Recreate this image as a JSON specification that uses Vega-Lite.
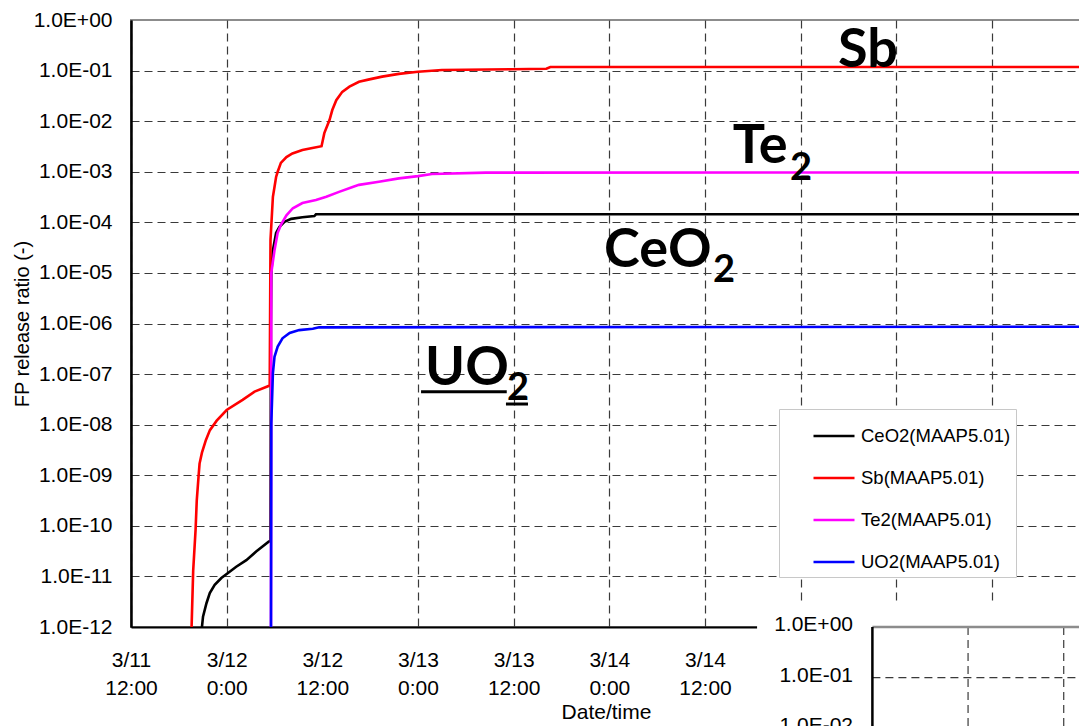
{
  "$schema": "https://vega.github.io/schema/vega-lite/v6.json",
  "width": 950,
  "height": 607,
  "autosize": {"type": "none"},
  "padding": {"left": 131, "top": 20, "right": 0, "bottom": 99},
  "background": "white",
  "config": {
    "view": {"stroke": "#8c8c8c", "strokeWidth": 2},
    "font": "Liberation Sans"
  },
  "layer": [
    {
      "data": {
        "values": [
          {"series": "CeO2(MAAP5.01)", "t": "2011-03-11T20:51", "v": 1e-13},
          {"series": "CeO2(MAAP5.01)", "t": "2011-03-11T20:54", "v": 1e-12},
          {"series": "CeO2(MAAP5.01)", "t": "2011-03-11T21:02", "v": 1.6e-12},
          {"series": "CeO2(MAAP5.01)", "t": "2011-03-11T21:28", "v": 2.95e-12},
          {"series": "CeO2(MAAP5.01)", "t": "2011-03-11T21:53", "v": 4.7e-12},
          {"series": "CeO2(MAAP5.01)", "t": "2011-03-11T22:30", "v": 6.8e-12},
          {"series": "CeO2(MAAP5.01)", "t": "2011-03-11T23:20", "v": 9.3e-12},
          {"series": "CeO2(MAAP5.01)", "t": "2011-03-12T00:10", "v": 1.17e-11},
          {"series": "CeO2(MAAP5.01)", "t": "2011-03-12T01:12", "v": 1.55e-11},
          {"series": "CeO2(MAAP5.01)", "t": "2011-03-12T02:28", "v": 2.1e-11},
          {"series": "CeO2(MAAP5.01)", "t": "2011-03-12T03:42", "v": 3.1e-11},
          {"series": "CeO2(MAAP5.01)", "t": "2011-03-12T05:18", "v": 4.9e-11},
          {"series": "CeO2(MAAP5.01)", "t": "2011-03-12T05:30", "v": 5e-11},
          {"series": "CeO2(MAAP5.01)", "t": "2011-03-12T05:33", "v": 1e-6},
          {"series": "CeO2(MAAP5.01)", "t": "2011-03-12T05:36", "v": 1e-5},
          {"series": "CeO2(MAAP5.01)", "t": "2011-03-12T05:48", "v": 2.8e-5},
          {"series": "CeO2(MAAP5.01)", "t": "2011-03-12T06:12", "v": 6.2e-5},
          {"series": "CeO2(MAAP5.01)", "t": "2011-03-12T06:36", "v": 8.1e-5},
          {"series": "CeO2(MAAP5.01)", "t": "2011-03-12T07:15", "v": 1.02e-4},
          {"series": "CeO2(MAAP5.01)", "t": "2011-03-12T08:06", "v": 1.17e-4},
          {"series": "CeO2(MAAP5.01)", "t": "2011-03-12T09:30", "v": 1.26e-4},
          {"series": "CeO2(MAAP5.01)", "t": "2011-03-12T11:00", "v": 1.33e-4},
          {"series": "CeO2(MAAP5.01)", "t": "2011-03-12T11:12", "v": 1.44e-4},
          {"series": "CeO2(MAAP5.01)", "t": "2011-03-16T12:00", "v": 1.44e-4},
          {"series": "Sb(MAAP5.01)", "t": "2011-03-11T19:33", "v": 1e-13},
          {"series": "Sb(MAAP5.01)", "t": "2011-03-11T19:36", "v": 1e-12},
          {"series": "Sb(MAAP5.01)", "t": "2011-03-11T19:48", "v": 1.3e-11},
          {"series": "Sb(MAAP5.01)", "t": "2011-03-11T20:06", "v": 8.3e-11},
          {"series": "Sb(MAAP5.01)", "t": "2011-03-11T20:15", "v": 3.2e-10},
          {"series": "Sb(MAAP5.01)", "t": "2011-03-11T20:28", "v": 9.2e-10},
          {"series": "Sb(MAAP5.01)", "t": "2011-03-11T20:36", "v": 1.7e-9},
          {"series": "Sb(MAAP5.01)", "t": "2011-03-11T20:54", "v": 2.8e-9},
          {"series": "Sb(MAAP5.01)", "t": "2011-03-11T21:24", "v": 5e-9},
          {"series": "Sb(MAAP5.01)", "t": "2011-03-11T21:54", "v": 7.8e-9},
          {"series": "Sb(MAAP5.01)", "t": "2011-03-11T22:45", "v": 1.2e-8},
          {"series": "Sb(MAAP5.01)", "t": "2011-03-12T00:00", "v": 1.95e-8},
          {"series": "Sb(MAAP5.01)", "t": "2011-03-12T02:00", "v": 3.1e-8},
          {"series": "Sb(MAAP5.01)", "t": "2011-03-12T03:30", "v": 4.5e-8},
          {"series": "Sb(MAAP5.01)", "t": "2011-03-12T05:15", "v": 5.8e-8},
          {"series": "Sb(MAAP5.01)", "t": "2011-03-12T05:24", "v": 6e-8},
          {"series": "Sb(MAAP5.01)", "t": "2011-03-12T05:30", "v": 4.5e-5},
          {"series": "Sb(MAAP5.01)", "t": "2011-03-12T05:48", "v": 3.2e-4},
          {"series": "Sb(MAAP5.01)", "t": "2011-03-12T06:00", "v": 5e-4},
          {"series": "Sb(MAAP5.01)", "t": "2011-03-12T06:12", "v": 7.9e-4},
          {"series": "Sb(MAAP5.01)", "t": "2011-03-12T06:24", "v": 1e-3},
          {"series": "Sb(MAAP5.01)", "t": "2011-03-12T06:48", "v": 1.5e-3},
          {"series": "Sb(MAAP5.01)", "t": "2011-03-12T07:30", "v": 1.95e-3},
          {"series": "Sb(MAAP5.01)", "t": "2011-03-12T08:15", "v": 2.3e-3},
          {"series": "Sb(MAAP5.01)", "t": "2011-03-12T09:30", "v": 2.7e-3},
          {"series": "Sb(MAAP5.01)", "t": "2011-03-12T10:45", "v": 2.95e-3},
          {"series": "Sb(MAAP5.01)", "t": "2011-03-12T11:54", "v": 3.2e-3},
          {"series": "Sb(MAAP5.01)", "t": "2011-03-12T12:15", "v": 5.8e-3},
          {"series": "Sb(MAAP5.01)", "t": "2011-03-12T12:54", "v": 1.05e-2},
          {"series": "Sb(MAAP5.01)", "t": "2011-03-12T13:15", "v": 1.66e-2},
          {"series": "Sb(MAAP5.01)", "t": "2011-03-12T13:45", "v": 2.6e-2},
          {"series": "Sb(MAAP5.01)", "t": "2011-03-12T14:30", "v": 3.8e-2},
          {"series": "Sb(MAAP5.01)", "t": "2011-03-12T15:24", "v": 4.8e-2},
          {"series": "Sb(MAAP5.01)", "t": "2011-03-12T16:36", "v": 6.0e-2},
          {"series": "Sb(MAAP5.01)", "t": "2011-03-12T17:54", "v": 6.7e-2},
          {"series": "Sb(MAAP5.01)", "t": "2011-03-12T19:30", "v": 7.6e-2},
          {"series": "Sb(MAAP5.01)", "t": "2011-03-12T21:36", "v": 8.6e-2},
          {"series": "Sb(MAAP5.01)", "t": "2011-03-13T00:00", "v": 9.5e-2},
          {"series": "Sb(MAAP5.01)", "t": "2011-03-13T03:00", "v": 1.03e-1},
          {"series": "Sb(MAAP5.01)", "t": "2011-03-13T11:45", "v": 1.06e-1},
          {"series": "Sb(MAAP5.01)", "t": "2011-03-13T16:06", "v": 1.09e-1},
          {"series": "Sb(MAAP5.01)", "t": "2011-03-13T16:36", "v": 1.18e-1},
          {"series": "Sb(MAAP5.01)", "t": "2011-03-16T12:00", "v": 1.18e-1},
          {"series": "Te2(MAAP5.01)", "t": "2011-03-12T05:33", "v": 1e-13},
          {"series": "Te2(MAAP5.01)", "t": "2011-03-12T05:36", "v": 1e-5},
          {"series": "Te2(MAAP5.01)", "t": "2011-03-12T06:00", "v": 2.8e-5},
          {"series": "Te2(MAAP5.01)", "t": "2011-03-12T06:24", "v": 6.2e-5},
          {"series": "Te2(MAAP5.01)", "t": "2011-03-12T06:48", "v": 8.9e-5},
          {"series": "Te2(MAAP5.01)", "t": "2011-03-12T07:30", "v": 1.38e-4},
          {"series": "Te2(MAAP5.01)", "t": "2011-03-12T08:18", "v": 1.9e-4},
          {"series": "Te2(MAAP5.01)", "t": "2011-03-12T09:30", "v": 2.4e-4},
          {"series": "Te2(MAAP5.01)", "t": "2011-03-12T11:12", "v": 2.75e-4},
          {"series": "Te2(MAAP5.01)", "t": "2011-03-12T12:30", "v": 3.2e-4},
          {"series": "Te2(MAAP5.01)", "t": "2011-03-12T14:06", "v": 4.0e-4},
          {"series": "Te2(MAAP5.01)", "t": "2011-03-12T15:48", "v": 5.0e-4},
          {"series": "Te2(MAAP5.01)", "t": "2011-03-12T16:36", "v": 5.5e-4},
          {"series": "Te2(MAAP5.01)", "t": "2011-03-12T19:06", "v": 6.35e-4},
          {"series": "Te2(MAAP5.01)", "t": "2011-03-12T21:36", "v": 7.4e-4},
          {"series": "Te2(MAAP5.01)", "t": "2011-03-13T00:00", "v": 8.2e-4},
          {"series": "Te2(MAAP5.01)", "t": "2011-03-13T01:45", "v": 9.0e-4},
          {"series": "Te2(MAAP5.01)", "t": "2011-03-13T08:30", "v": 9.6e-4},
          {"series": "Te2(MAAP5.01)", "t": "2011-03-16T12:00", "v": 9.7e-4},
          {"series": "UO2(MAAP5.01)", "t": "2011-03-12T05:33", "v": 1e-13},
          {"series": "UO2(MAAP5.01)", "t": "2011-03-12T05:36", "v": 1.07e-8},
          {"series": "UO2(MAAP5.01)", "t": "2011-03-12T05:48", "v": 1.05e-7},
          {"series": "UO2(MAAP5.01)", "t": "2011-03-12T06:00", "v": 2.2e-7},
          {"series": "UO2(MAAP5.01)", "t": "2011-03-12T06:24", "v": 3.5e-7},
          {"series": "UO2(MAAP5.01)", "t": "2011-03-12T07:00", "v": 5.1e-7},
          {"series": "UO2(MAAP5.01)", "t": "2011-03-12T07:54", "v": 6.5e-7},
          {"series": "UO2(MAAP5.01)", "t": "2011-03-12T09:06", "v": 7.4e-7},
          {"series": "UO2(MAAP5.01)", "t": "2011-03-12T10:48", "v": 7.9e-7},
          {"series": "UO2(MAAP5.01)", "t": "2011-03-12T11:36", "v": 8.4e-7},
          {"series": "UO2(MAAP5.01)", "t": "2011-03-16T12:00", "v": 8.65e-7}
        ]
      },
      "mark": {"type": "line", "clip": true, "strokeWidth": 2.6},
      "encoding": {
        "x": {
          "field": "t", "type": "temporal",
          "scale": {"domain": ["2011-03-11T12:00", "2011-03-16T11:10"]},
          "axis": {
            "title": "Date/time",
            "titleFontSize": 21, "titleFontWeight": "normal", "titleColor": "black", "titlePadding": 3,
            "tickCount": 10,
            "format": "%-m/%-d %-H:%M",
            "labelExpr": "date(datum.value) >= 15 ? '' : split(datum.label, ' ')",
            "labelFontSize": 21, "labelLineHeight": 28, "labelColor": "black",
            "labelFlush": false, "labelOverlap": false, "labelPadding": 22,
            "ticks": false, "tickSize": 0,
            "domainColor": "black", "domainWidth": 2,
            "grid": true, "gridColor": "#3a3a3a", "gridDash": [8, 5], "gridWidth": 1.2,
            "gridOpacity": {"condition": {"test": "hours(datum.value) == 12 && date(datum.value) == 12", "value": 0}, "value": 1}
          }
        },
        "y": {
          "field": "v", "type": "quantitative",
          "scale": {"type": "log", "domain": [1e-12, 1]},
          "axis": {
            "title": "FP release ratio (-)",
            "titleFontSize": 20, "titleFontWeight": "normal", "titleColor": "black", "titlePadding": 1,
            "values": [1e-12, 1e-11, 1e-10, 1e-9, 1e-8, 1e-7, 1e-6, 1e-5, 1e-4, 1e-3, 1e-2, 1e-1, 1],
            "labelExpr": "'1.0E' + (round(log(datum.value)/LN10) >= 0 ? '+' : '-') + (abs(round(log(datum.value)/LN10)) < 10 ? '0' : '') + abs(round(log(datum.value)/LN10))",
            "labelFontSize": 21, "labelColor": "black", "labelPadding": 19,
            "ticks": false, "tickSize": 0,
            "domainColor": "black", "domainWidth": 2.5,
            "grid": true, "gridColor": "#3a3a3a", "gridDash": [8, 5], "gridWidth": 1.2,
            "gridOpacity": {"condition": {"test": "datum.value > 0.5", "value": 0}, "value": 1}
          }
        },
        "color": {
          "field": "series", "type": "nominal",
          "scale": {"domain": ["CeO2(MAAP5.01)", "Sb(MAAP5.01)", "Te2(MAAP5.01)", "UO2(MAAP5.01)"], "range": ["#000000", "#ff0000", "#ff00ff", "#0000ff"]},
          "legend": {
            "orient": "none", "legendX": 648, "legendY": 389, "title": null,
            "fillColor": "white", "strokeColor": "#c8c8c8", "padding": 5,
            "symbolType": "stroke", "symbolSize": 1681, "symbolOffset": 28, "symbolStrokeWidth": 2.6,
            "labelExpr": "datum.label + '\u00a0\u00a0\u00a0\u00a0'",
            "labelFontSize": 18.5, "labelColor": "black", "labelOffset": 5,
            "rowPadding": 10
          }
        }
      }
    },
    {
      "data": {"values": [{"t": "2011-03-14T18:32", "t2": "2011-03-16T20:00", "v": 2.96e-12, "v2": 1e-15}]},
      "mark": {"type": "rect", "clip": false, "fill": "white"},
      "encoding": {
        "x": {"field": "t", "type": "temporal"},
        "x2": {"field": "t2"},
        "y": {"field": "v", "type": "quantitative"},
        "y2": {"field": "v2"}
      }
    },
    {
      "data": {"values": [
        {"t": "2011-03-15T09:00", "t2": "2011-03-16T20:00", "v": 1e-13},
        {"t": "2011-03-15T09:00", "t2": "2011-03-16T20:00", "v": 1e-14}
      ]},
      "mark": {"type": "rule", "clip": false, "color": "#3a3a3a", "strokeDash": [8, 5], "strokeWidth": 1.2},
      "encoding": {
        "x": {"field": "t", "type": "temporal"},
        "x2": {"field": "t2"},
        "y": {"field": "v", "type": "quantitative"}
      }
    },
    {
      "data": {"values": [
        {"t": "2011-03-15T21:00", "v": 1e-12, "v2": 1e-15},
        {"t": "2011-03-16T09:00", "v": 1e-12, "v2": 1e-15}
      ]},
      "mark": {"type": "rule", "clip": false, "color": "#3a3a3a", "strokeDash": [8, 5], "strokeWidth": 1.2},
      "encoding": {
        "x": {"field": "t", "type": "temporal"},
        "y": {"field": "v", "type": "quantitative"},
        "y2": {"field": "v2"}
      }
    },
    {
      "data": {"values": [{"t": "2011-03-15T09:00", "t2": "2011-03-16T20:00", "v": 1e-12}]},
      "mark": {"type": "rule", "clip": false, "color": "#8c8c8c", "strokeWidth": 2.5},
      "encoding": {
        "x": {"field": "t", "type": "temporal"},
        "x2": {"field": "t2"},
        "y": {"field": "v", "type": "quantitative"}
      }
    },
    {
      "data": {"values": [{"t": "2011-03-15T09:00", "v": 1e-12, "v2": 1e-15}]},
      "mark": {"type": "rule", "clip": false, "color": "black", "strokeWidth": 2.5},
      "encoding": {
        "x": {"field": "t", "type": "temporal"},
        "y": {"field": "v", "type": "quantitative"},
        "y2": {"field": "v2"}
      }
    },
    {
      "data": {"values": [
        {"label": "1.0E+00", "t": "2011-03-15T06:34", "v": 1e-12},
        {"label": "1.0E-01", "t": "2011-03-15T06:34", "v": 1e-13},
        {"label": "1.0E-02", "t": "2011-03-15T06:34", "v": 1e-14}
      ]},
      "mark": {"type": "text", "clip": false, "align": "right", "baseline": "middle", "dy": -2, "fontSize": 21, "color": "black"},
      "encoding": {
        "x": {"field": "t", "type": "temporal"},
        "y": {"field": "v", "type": "quantitative"},
        "text": {"field": "label", "type": "nominal"}
      }
    },
    {
      "data": {"values": [
        {"label": "Sb", "t": "2011-03-15T04:41", "v": 0.119},
        {"label": "Te", "t": "2011-03-14T15:29", "v": 1.49e-3},
        {"label": "CeO", "t": "2011-03-13T23:20", "v": 1.33e-5},
        {"label": "UO", "t": "2011-03-13T00:53", "v": 6.08e-8}
      ]},
      "mark": {"type": "text", "clip": false, "align": "left", "baseline": "alphabetic", "font": "Lato", "fontWeight": "bold", "fontSize": 54, "color": "black"},
      "encoding": {
        "x": {"field": "t", "type": "temporal"},
        "y": {"field": "v", "type": "quantitative"},
        "text": {"field": "label", "type": "nominal"}
      }
    },
    {
      "data": {"values": [
        {"label": "2", "t": "2011-03-14T22:40", "v": 6.87e-4},
        {"label": "2", "t": "2011-03-14T13:00", "v": 6.7e-6},
        {"label": "2", "t": "2011-03-13T11:10", "v": 3.07e-8}
      ]},
      "mark": {"type": "text", "clip": false, "align": "left", "baseline": "alphabetic", "font": "Lato", "fontWeight": "bold", "fontSize": 38, "color": "black"},
      "encoding": {
        "x": {"field": "t", "type": "temporal"},
        "y": {"field": "v", "type": "quantitative"},
        "text": {"field": "label", "type": "nominal"}
      }
    },
    {
      "data": {"values": [
        {"t": "2011-03-13T00:23", "t2": "2011-03-13T11:08", "v": 4.49e-8},
        {"t": "2011-03-13T11:02", "t2": "2011-03-13T13:48", "v": 2.56e-8}
      ]},
      "mark": {"type": "rule", "clip": false, "color": "black", "strokeWidth": 3},
      "encoding": {
        "x": {"field": "t", "type": "temporal"},
        "x2": {"field": "t2"},
        "y": {"field": "v", "type": "quantitative"}
      }
    }
  ]
}
